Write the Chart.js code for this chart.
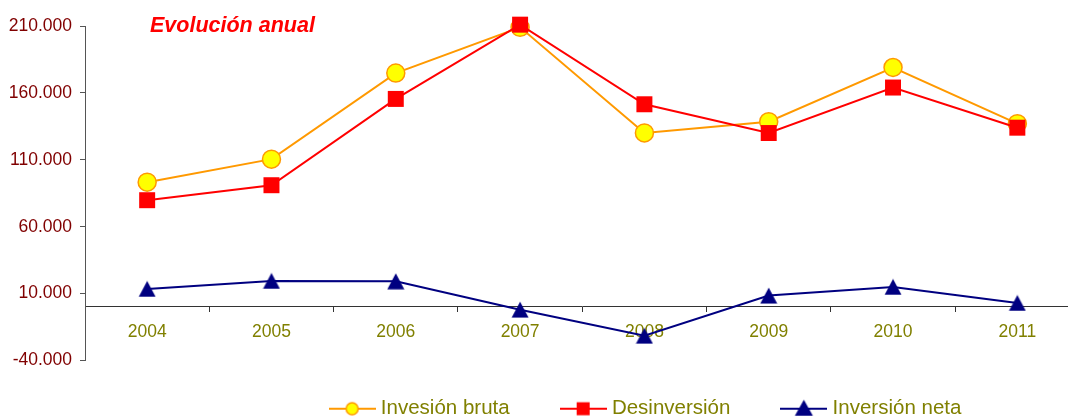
<!DOCTYPE html>
<html lang="es">
<head>
<meta charset="UTF-8">
<title>Evolución anual</title>
<script src="https://cdn.jsdelivr.net/npm/chart.js"></script>
<style>
    body {
        margin: 0;
        background: #fff;
        overflow: hidden;
    }

    #wrap {
        position: relative;
        width: 1091px;
        height: 446px;
    }

    #titulo {
        position: absolute;
        left: 150px;
        top: 15px;
        font: italic bold 21.5px/21.5px Arial, "Liberation Sans", sans-serif;
        color: #ff0000;
        white-space: nowrap;
    }
</style>
</head>
<body>
<div id="wrap">
    <canvas id="grafico" width="1091" height="446"></canvas>
    <div id="titulo">Evolución anual</div>
</div>

<script>
    // datos
    const years = ["2004", "2005", "2006", "2007", "2008", "2009", "2010", "2011"];
    const inversionBruta = [93300, 110500, 174800, 209000, 130100, 138500, 179000, 137000];
    const desinversion = [79800, 91000, 155500, 211000, 151500, 130000, 164000, 134000];
    const inversionNeta = [13500, 19500, 19200, -2000, -21500, 8500, 15000, 3000];
    const seriesNames = ["Invesión bruta", "Desinversión", "Inversión neta"];

    // eje Y
    const yMin = -40000;
    const yMax = 210000;
    const yStep = 50000;

    // desplazamiento de la leyenda respecto a su sitio por defecto
    const LEGEND_DX = 102;
    const LEGEND_DY = -17;

    function miles(v) {
        return v.toString().replace(/\B(?=(\d{3})+(?!\d))/g, ".");
    }

    // triangulo centrado en su caja, como el marcador de Excel
    function triangleMarker(color) {
        const c = document.createElement("canvas");
        c.width = 18;
        c.height = 17;
        const g = c.getContext("2d");
        g.fillStyle = color;
        g.beginPath();
        g.moveTo(9, 0.5);
        g.lineTo(17.5, 16.5);
        g.lineTo(0.5, 16.5);
        g.closePath();
        g.fill();
        return c;
    }

    function legendIcon(color, style, fill) {
        const c = document.createElement("canvas");
        c.width = 47;
        c.height = 20;
        const g = c.getContext("2d");
        g.strokeStyle = color;
        g.lineWidth = 2;
        g.beginPath();
        g.moveTo(0, 10);
        g.lineTo(47, 10);
        g.stroke();
        g.fillStyle = fill;
        if (style === "circle") {
            g.beginPath();
            g.arc(23.5, 10, 6, 0, Math.PI * 2);
            g.fill();
            g.lineWidth = 1.5;
            g.stroke();
        } else if (style === "rect") {
            g.fillRect(17, 3.5, 13, 13);
        } else {
            g.beginPath();
            g.moveTo(23.5, 1);
            g.lineTo(32.5, 17);
            g.lineTo(14.5, 17);
            g.closePath();
            g.fill();
        }
        return c;
    }

    const icons = [
        legendIcon("#ff9900", "circle", "#ffff00"),
        legendIcon("#ff0000", "rect", "#ff0000"),
        legendIcon("#000080", "triangle", "#000080")
    ];

    const moveLegend = {
        id: "moveLegend",
        afterLayout(chart) {
            const lg = chart.legend;
            lg.left += LEGEND_DX;
            lg.right += LEGEND_DX;
            lg.top += LEGEND_DY;
            lg.bottom += LEGEND_DY;
        }
    };

    const ctx = document.getElementById("grafico").getContext("2d");

    new Chart(ctx, {
        type: "line",
        data: {
            labels: years,
            datasets: [
                {
                    label: seriesNames[0],
                    data: inversionBruta,
                    borderColor: "#ff9900",
                    borderWidth: 2,
                    backgroundColor: "#ffff00",
                    pointStyle: "circle",
                    pointRadius: 9,
                    pointBorderWidth: 1.5,
                    pointBorderColor: "#ff9900",
                    order: 3
                },
                {
                    label: seriesNames[1],
                    data: desinversion,
                    borderColor: "#ff0000",
                    borderWidth: 2,
                    backgroundColor: "#ff0000",
                    pointStyle: "rect",
                    pointRadius: 11.3,
                    pointBorderWidth: 0,
                    order: 2
                },
                {
                    label: seriesNames[2],
                    data: inversionNeta,
                    borderColor: "#000080",
                    borderWidth: 2,
                    backgroundColor: "#000080",
                    pointStyle: triangleMarker("#000080"),
                    pointRadius: 10,
                    pointBorderWidth: 0,
                    order: 1
                }
            ]
        },
        options: {
            responsive: false,
            animation: false,
            layout: {
                padding: { top: 26, left: 0, right: 0, bottom: 0 }
            },
            elements: {
                line: { tension: 0, fill: false },
                point: { hoverRadius: 10 }
            },
            datasets: {
                line: { clip: false }
            },
            scales: {
                x: {
                    position: { y: 0 },
                    offset: true,
                    grid: {
                        offset: true,
                        drawOnChartArea: false,
                        drawTicks: true,
                        tickLength: 5,
                        color: "#333"
                    },
                    border: { display: true, color: "#333", width: 1 },
                    ticks: {
                        color: "#808000",
                        padding: 10,
                        font: { family: "Arial, 'Liberation Sans', sans-serif", size: 17.5 }
                    }
                },
                y: {
                    min: yMin,
                    max: yMax,
                    afterFit(scale) {
                        scale.width = 85;
                    },
                    grid: {
                        drawOnChartArea: false,
                        drawTicks: true,
                        tickLength: 5,
                        color: "#555"
                    },
                    border: { display: true, color: "#555", width: 1 },
                    ticks: {
                        stepSize: yStep,
                        color: "#800000",
                        padding: 8,
                        font: { family: "Arial, 'Liberation Sans', sans-serif", size: 17.5 },
                        callback: v => miles(v)
                    }
                }
            },
            plugins: {
                title: { display: false },
                tooltip: { enabled: false },
                legend: {
                    position: "bottom",
                    labels: {
                        usePointStyle: true,
                        pointStyleWidth: 37,
                        padding: 55,
                        color: "#808000",
                        font: { family: "Arial, 'Liberation Sans', sans-serif", size: 20.5 },
                        generateLabels(chart) {
                            return chart.data.datasets.map((ds, i) => ({
                                text: ds.label,
                                pointStyle: icons[i],
                                fillStyle: ds.backgroundColor,
                                strokeStyle: ds.borderColor,
                                lineWidth: 0,
                                fontColor: "#808000",
                                hidden: false,
                                datasetIndex: i
                            }));
                        }
                    }
                }
            }
        },
        plugins: [moveLegend]
    });
</script>
</body>
</html>
